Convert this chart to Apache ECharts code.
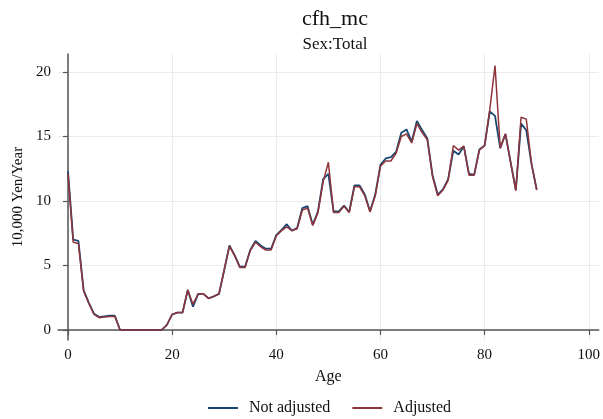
<!DOCTYPE html>
<html>
<head>
<meta charset="utf-8">
<script src="https://cdn.jsdelivr.net/npm/echarts@6/dist/echarts.min.js"></script>
<style>
html,body{margin:0;padding:0;background:#fff;}
#chart{width:603px;height:419px;}
</style>
</head>
<body>
<div id="chart"></div>
<script>
const ages = [];
for (let a = 0; a <= 90; a++) ages.push(a);

const notAdjusted = [
  12.3, 7.0, 6.9, 3.1, 2.1, 1.25, 1.0, 1.05, 1.1, 1.1,
  0, 0, 0, 0, 0, 0, 0, 0, 0, 0.4,
  1.2, 1.35, 1.35, 3.1, 1.8, 2.8, 2.8, 2.45, 2.6, 2.8,
  4.65, 6.55, 5.8, 4.9, 4.9, 6.2, 6.9, 6.55, 6.3, 6.3,
  7.35, 7.75, 8.2, 7.7, 7.9, 9.45, 9.6, 8.15, 9.2, 11.7,
  12.1, 9.2, 9.2, 9.65, 9.15, 11.2, 11.2, 10.5, 9.2, 10.5,
  12.8, 13.3, 13.4, 13.8, 15.3, 15.55, 14.6, 16.2, 15.5, 14.85,
  12.0, 10.5, 10.9, 11.7, 13.9, 13.6, 14.25, 12.1, 12.05, 14.0,
  14.3, 16.95, 16.6, 14.1, 15.2, 13.0, 10.85, 16.0, 15.5, 12.9,
  10.9
];

const adjusted = [
  12.1, 6.8, 6.7, 3.0, 2.05, 1.2, 0.95, 1.0, 1.05, 1.05,
  0, 0, 0, 0, 0, 0, 0, 0, 0, 0.4,
  1.2, 1.35, 1.35, 3.1, 2.0, 2.8, 2.8, 2.45, 2.6, 2.8,
  4.65, 6.5, 5.75, 4.85, 4.85, 6.15, 6.8, 6.45, 6.2, 6.2,
  7.3, 7.7, 8.0, 7.7, 7.85, 9.3, 9.45, 8.1, 9.1, 11.5,
  13.0, 9.1, 9.1, 9.6, 9.1, 11.1, 11.1, 10.4, 9.15, 10.4,
  12.7, 13.1, 13.1, 13.7, 15.0, 15.2, 14.5, 16.0, 15.3, 14.75,
  11.9, 10.4, 10.85, 11.6, 14.3, 13.95, 14.25, 12.0, 12.0, 13.95,
  14.3, 17.1, 20.5, 14.1, 15.2, 13.0, 10.8, 16.5, 16.35, 12.9,
  10.85
];

const xTicks = [0, 20, 40, 60, 80, 100];
const yTicks = [0, 5, 10, 15, 20];

const FONT = '"Liberation Serif", "DejaVu Serif", serif';
const NAVY = '#1a476f';
const MAROON = '#90353b';

const chart = echarts.init(document.getElementById('chart'), null, {renderer: 'canvas'});

const axisCommon = {
  axisLine: {show: true, lineStyle: {color: '#555', width: 1.5}},
  axisTick: {show: true, length: 5, lineStyle: {color: '#555', width: 1.2}},
  splitLine: {show: true, lineStyle: {color: '#ebebeb', width: 1}},
  axisLabel: {color: '#111', fontFamily: FONT, fontSize: 15}
};

chart.setOption({
  backgroundColor: '#fff',
  animation: false,
  title: [
    {text: 'cfh_mc', left: 330, top: 3, textAlign: 'center',
     textStyle: {fontFamily: FONT, fontSize: 22, fontWeight: 'normal', color: '#111'}},
    {text: 'Sex:Total', left: 330, top: 31, textAlign: 'center',
     textStyle: {fontFamily: FONT, fontSize: 17, fontWeight: 'normal', color: '#111'}}
  ],
  legend: {
    top: 395,
    left: 203,
    itemWidth: 30,
    itemHeight: 2,
    itemGap: 22,
    icon: 'rect',
    textStyle: {fontFamily: FONT, fontSize: 16, color: '#111', padding: [0, 0, 0, 6]},
    data: [
      {name: 'Not adjusted', itemStyle: {color: NAVY}},
      {name: 'Adjusted', itemStyle: {color: MAROON}}
    ]
  },
  grid: {left: 58, right: 3, top: 54, bottom: 79, containLabel: false},
  xAxis: Object.assign({}, axisCommon, {
    type: 'value',
    min: -1.92,
    max: 101.92,
    name: 'Age',
    nameLocation: 'middle',
    nameGap: 29,
    nameTextStyle: {fontFamily: FONT, fontSize: 16, color: '#111'},
    axisTick: Object.assign({}, axisCommon.axisTick, {customValues: xTicks}),
    axisLabel: Object.assign({}, axisCommon.axisLabel, {customValues: xTicks, margin: 8}),
    splitLine: axisCommon.splitLine
  }),
  yAxis: Object.assign({}, axisCommon, {
    type: 'value',
    min: -0.78,
    max: 21.4,
    name: '10,000 Yen/Year',
    nameLocation: 'middle',
    nameGap: 31,
    nameRotate: 90,
    nameTextStyle: {fontFamily: FONT, fontSize: 15, color: '#111'},
    axisTick: Object.assign({}, axisCommon.axisTick, {customValues: yTicks}),
    axisLabel: Object.assign({}, axisCommon.axisLabel, {customValues: yTicks, margin: 7}),
    splitLine: axisCommon.splitLine
  }),
  series: [
    {
      name: 'Not adjusted',
      type: 'line',
      data: ages.map((a, i) => [a, notAdjusted[i]]),
      showSymbol: false,
      symbol: 'none',
      lineStyle: {color: NAVY, width: 1.8},
      itemStyle: {color: NAVY},
      z: 2
    },
    {
      name: 'Adjusted',
      type: 'line',
      data: ages.map((a, i) => [a, adjusted[i]]),
      showSymbol: false,
      symbol: 'none',
      lineStyle: {color: MAROON, width: 1.5},
      itemStyle: {color: MAROON},
      z: 3
    }
  ]
});
</script>
</body>
</html>
